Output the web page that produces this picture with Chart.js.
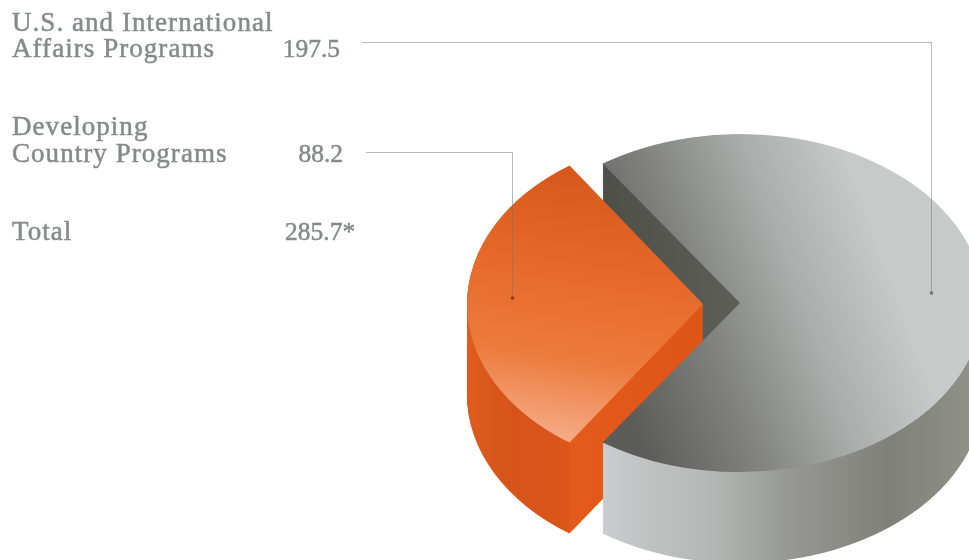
<!DOCTYPE html>
<html>
<head>
<meta charset="utf-8">
<title>Program spending</title>
<script src="https://cdn.jsdelivr.net/npm/chart.js@4/dist/chart.umd.min.js"></script>
<style>
    html, body { margin: 0; padding: 0; background: #fff; }
    canvas { display: block; }
</style>
</head>
<body>
<canvas id="programPie" width="969" height="560"></canvas>
<script>
// Chart data
const categories = ['U.S. and International Affairs Programs', 'Developing Country Programs'];
const categoryLines = [['U.S. and International', 'Affairs Programs'], ['Developing', 'Country Programs']];
const programValues = [197.5, 88.2];
const valueLabels = ['197.5', '88.2'];
const totalLabel = 'Total';
const totalValue = '285.7*';

// Drum geometry: each slice gets its own ellipse on the page
const slices = [
    { cx: 740, cy: 303, rx: 243, ry: 169, leaderRadius: 0.786, leaderLift: 10 },
    { cx: 703, cy: 304, rx: 236, ry: 168, leaderRadius: 0.81, leaderLift: 6 }
];
const DEPTH = 91;

// Label rows: baselines for the text, y of the leader coming off it
const rows = [
    { baselines: [31, 57], valueRight: 340, leaderX: 362, leaderY: 42 },
    { baselines: [135, 162], valueRight: 343, leaderX: 366, leaderY: 152 }
];
const totalRow = { baseline: 240, valueLeft: 285 };

// Centre the small slice on the left of the drum, large slice starts right after it
const rotation = 270 + programValues[1] / (programValues[0] + programValues[1]) * 180;

function project(shape, angle, r = 1) {
    return {
        x: shape.cx + Math.cos(angle) * shape.rx * r,
        y: shape.cy + Math.sin(angle) * shape.ry * r
    };
}

// Linear gradient given in page pixels, for use inside the squashed slice transform
function pageGradient(ctx, arc, shape, x0, y0, x1, y1, stops) {
    const sx = shape.rx / arc.outerRadius;
    const sy = shape.ry / arc.outerRadius;
    const dx = x1 - x0;
    const dy = y1 - y0;
    const tx = dx * sx;
    const ty = dy * sy;
    const k = (dx * dx + dy * dy) / (tx * tx + ty * ty);
    const cx0 = arc.x + (x0 - shape.cx) / sx;
    const cy0 = arc.y + (y0 - shape.cy) / sy;
    const g = ctx.createLinearGradient(cx0, cy0, cx0 + tx * k, cy0 + ty * k);
    stops.forEach(([at, color]) => g.addColorStop(at, color));
    return g;
}

function drawFace(ctx, arc, shape, drop, fill) {
    const saved = arc.options;
    ctx.save();
    ctx.translate(shape.cx, shape.cy + drop);
    ctx.scale(shape.rx / arc.outerRadius, shape.ry / arc.outerRadius);
    ctx.translate(-arc.x, -arc.y);
    arc.options = { ...saved, backgroundColor: fill, borderWidth: 0 };
    arc.draw(ctx);
    arc.options = saved;
    ctx.restore();
}

// Sweep the slice downward to build its side walls
function drawSides(ctx, arc, shape, fill) {
    for (let drop = DEPTH; drop > 0; drop--) {
        drawFace(ctx, arc, shape, drop, fill);
    }
}

function drawLabel(ctx, text, x, y) {
    ctx.fillText(text, x, y);
    ctx.strokeText(text, x, y);
}

function nameFont(ctx) {
    ctx.font = '27px "Liberation Serif"';
    ctx.letterSpacing = '1.05px';
}

function numberFont(ctx) {
    ctx.font = '25.5px "Liberation Serif"';
    ctx.letterSpacing = '0px';
}

const drumPlugin = {
    id: 'drum',
    beforeDatasetsDraw(chart) {
        const ctx = chart.ctx;
        const [grayArc, orangeArc] = chart.getDatasetMeta(0).data;
        const [gray, orange] = slices;

        const apex = { x: gray.cx, y: gray.cy };
        const lowCorner = project(gray, grayArc.endAngle);

        const wallFill = pageGradient(ctx, grayArc, gray, 604, 0, 739, 0, [
            [0, '#4f4f4a'], [1, '#5e5e58']
        ]);
        const rimFill = pageGradient(ctx, grayArc, gray, 606, 0, 969, 0, [
            [0, '#c9cbcc'], [0.3, '#b3b6b4'], [0.5, '#979893'], [0.78, '#7f8079'], [1, '#8f9087']
        ]);
        const topFill = pageGradient(ctx, grayArc, gray, 625, 400, 900, 300, [
            [0, '#5c5d59'], [0.35, '#818280'], [0.68, '#aaadab'], [1, '#c6cac8']
        ]);
        const orangeSide = pageGradient(ctx, orangeArc, orange, 467, 0, 703, 0, [
            [0, '#df5c1d'], [0.2, '#d6531a'], [0.43, '#dc561a'], [0.44, '#e35a1a'], [1, '#de5518']
        ]);
        const orangeTop = pageGradient(ctx, orangeArc, orange, 610, 165, 565, 445, [
            [0, '#d6561b'], [0.4, '#e66a2a'], [0.7, '#ec7b3d'], [0.88, '#f29a6c'], [1, '#f6ae8d']
        ]);

        // Cut wall of the large slice, seen through the notch
        ctx.save();
        ctx.beginPath();
        ctx.rect(0, 0, apex.x, lowCorner.y);
        ctx.clip();
        drawSides(ctx, grayArc, gray, wallFill);
        ctx.restore();

        // Pulled-out slice sits inside the notch
        drawSides(ctx, orangeArc, orange, orangeSide);
        drawFace(ctx, orangeArc, orange, 0, orangeTop);

        // Outer rim of the large slice comes in front of it
        ctx.save();
        ctx.beginPath();
        ctx.rect(lowCorner.x, lowCorner.y, chart.width, chart.height);
        ctx.rect(apex.x, 0, chart.width, chart.height);
        ctx.clip();
        drawSides(ctx, grayArc, gray, rimFill);
        ctx.restore();
        drawFace(ctx, grayArc, gray, 0, topFill);

        return false;
    },
    afterDraw(chart) {
        const ctx = chart.ctx;
        const arcs = chart.getDatasetMeta(0).data;

        // Leader lines with a dot on each slice
        rows.forEach((row, i) => {
            const arc = arcs[i];
            const shape = slices[i];
            const mid = (arc.startAngle + arc.endAngle) / 2;
            const end = project(shape, mid, shape.leaderRadius);
            end.y -= shape.leaderLift;
            ctx.strokeStyle = 'rgba(110,115,115,0.5)';
            ctx.lineWidth = 1;
            ctx.beginPath();
            ctx.moveTo(row.leaderX, row.leaderY + 0.5);
            ctx.lineTo(Math.round(end.x) + 0.5, row.leaderY + 0.5);
            ctx.lineTo(Math.round(end.x) + 0.5, end.y);
            ctx.stroke();
            ctx.fillStyle = i === 0 ? '#6e716f' : '#9c3a10';
            ctx.beginPath();
            ctx.arc(Math.round(end.x) + 0.5, end.y, 1.8, 0, Math.PI * 2);
            ctx.fill();
        });

        // Table of programs on the left
        ctx.fillStyle = '#868a88';
        ctx.strokeStyle = '#868a88';
        ctx.lineWidth = 0.5;
        ctx.textBaseline = 'alphabetic';
        rows.forEach((row, i) => {
            nameFont(ctx);
            ctx.textAlign = 'left';
            categoryLines[i].forEach((line, n) => drawLabel(ctx, line, 12, row.baselines[n]));
            numberFont(ctx);
            ctx.textAlign = 'right';
            drawLabel(ctx, valueLabels[i], row.valueRight, row.baselines[1]);
        });
        nameFont(ctx);
        ctx.textAlign = 'left';
        drawLabel(ctx, totalLabel, 12, totalRow.baseline);
        numberFont(ctx);
        drawLabel(ctx, totalValue, totalRow.valueLeft, totalRow.baseline);
    }
};

new Chart(document.getElementById('programPie'), {
    type: 'pie',
    data: {
        labels: categories,
        datasets: [{
            data: programValues,
            backgroundColor: ['#a8abaa', '#e66a2a'],
            borderWidth: 0
        }]
    },
    options: {
        responsive: false,
        animation: false,
        rotation: rotation,
        plugins: {
            legend: { display: false },
            tooltip: { enabled: false }
        }
    },
    plugins: [drumPlugin]
});
</script>
</body>
</html>
